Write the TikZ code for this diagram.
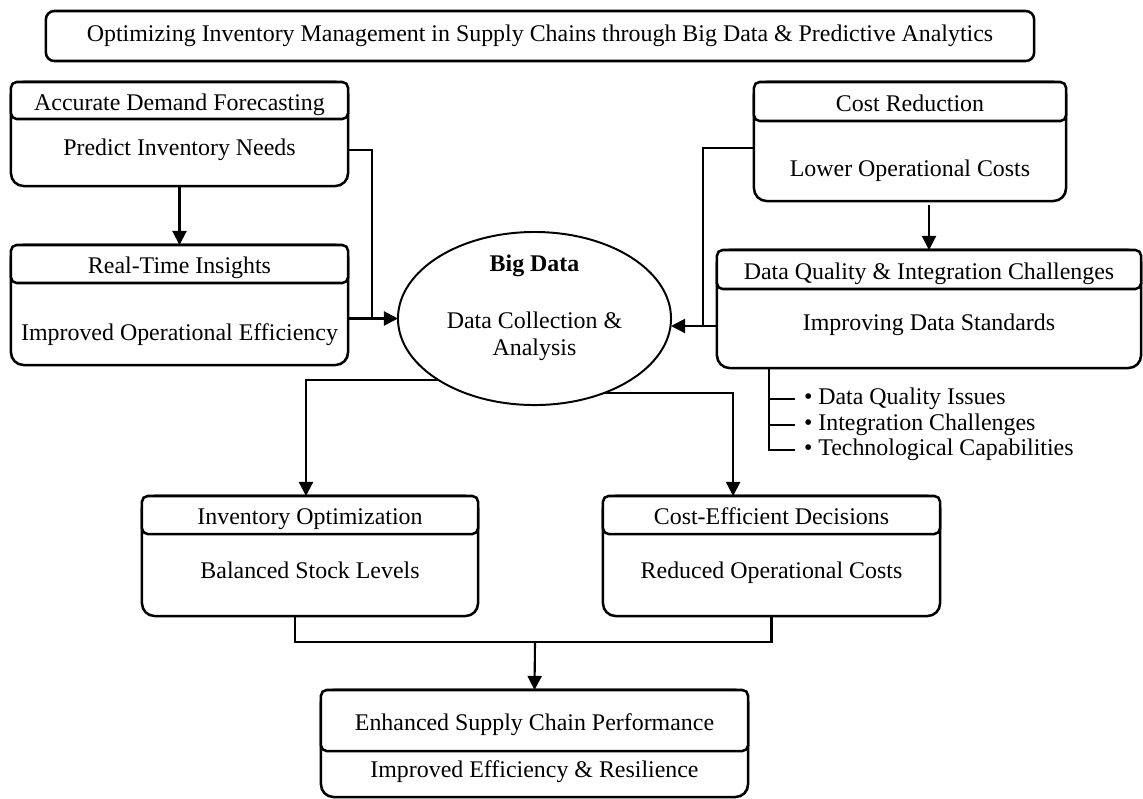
\documentclass[tikz,border=0pt]{standalone}
\usepackage{fontspec}
\setmainfont{Liberation Serif}
\usetikzlibrary{arrows.meta,shapes.geometric}
\begin{document}
\begin{tikzpicture}[x=0.025cm,y=-0.025cm,>={Triangle[length=10pt,width=10pt]},
        font=\fontsize{17pt}{19.5pt}\selectfont,
        every node/.style={inner sep=0pt,outer sep=0pt},
        txt/.style={text height=14pt,text depth=0pt},
        boxhead/.style={draw,line width=1.8pt,rounded corners=4pt,fill=white,txt},
        boxbody/.style={draw,line width=1.8pt,rounded corners=9pt},
        ln/.style={line width=1.5pt}]
        \useasboundingbox (0,0) rectangle (1143,798);
        \node[draw,line width=1.8pt,rounded corners=6pt,minimum width=24.7cm,minimum height=1.25cm] (title) at (540,36)
        {Optimizing Inventory Management in Supply Chains through Big Data \& Predictive Analytics};
        % left column
        \node[boxbody,minimum width=8.425cm,minimum height=2.6cm] (acc) at (179.5,134) {};
        \node[boxhead,minimum width=8.425cm,minimum height=0.925cm] (acc-h) at (179.5,100.5) {Accurate Demand Forecasting};
        \node[txt] (acc-t) at (179.5,146) {Predict Inventory Needs};
        \node[boxbody,minimum width=8.425cm,minimum height=3cm] (rt) at (179.5,305) {};
        \node[boxhead,minimum width=8.425cm,minimum height=0.95cm] (rt-h) at (179.5,264) {Real-Time Insights};
        \node[txt] (rt-t) at (179.5,331) {Improved Operational Efficiency};
        % right column
        \node[boxbody,minimum width=7.8cm,minimum height=2.975cm] (cr) at (910,141.5) {};
        \node[boxhead,minimum width=7.8cm,minimum height=0.975cm] (cr-h) at (910,101.5) {Cost Reduction};
        \node[txt] (cr-t) at (910,167) {Lower Operational Costs};
        \node[boxbody,minimum width=10.6cm,minimum height=2.95cm] (dq) at (929,309) {};
        \node[boxhead,minimum width=10.6cm,minimum height=0.975cm] (dq-h) at (929,269.5) {Data Quality \& Integration Challenges};
        \node[txt] (dq-t) at (929,321) {Improving Data Standards};
        % centre
        \node[draw,ellipse,line width=1.4pt,minimum width=6.825cm,minimum height=4.325cm] (bigdata) at (534.5,318.5) {};
        \node[align=center] (bigtxt) at (534.5,308) {\textbf{Big Data}\\[21pt] Data Collection \&\\ Analysis};
        % bottom
        \node[boxbody,minimum width=8.4cm,minimum height=3cm] (io) at (310,556) {};
        \node[boxhead,minimum width=8.4cm,minimum height=0.95cm] (io-h) at (310,515) {Inventory Optimization};
        \node[txt] (io-t) at (310,569) {Balanced Stock Levels};
        \node[boxbody,minimum width=8.425cm,minimum height=3cm] (ce) at (771.5,556) {};
        \node[boxhead,minimum width=8.425cm,minimum height=0.95cm] (ce-h) at (771.5,515) {Cost-Efficient Decisions};
        \node[txt] (ce-t) at (771.5,569) {Reduced Operational Costs};
        \node[boxbody,minimum width=10.675cm,minimum height=2.675cm] (es) at (534.5,743.5) {};
        \node[boxhead,minimum width=10.675cm,minimum height=1.525cm] (es-h) at (534.5,720.5) {Enhanced Supply Chain Performance};
        \node[txt] (es-t) at (534.5,768) {Improved Efficiency \& Resilience};
        % bullets
        \node[anchor=west] (b1) at (804,399) {\textbullet\ Data Quality Issues};
        \node[anchor=west] (b2) at (804,425) {\textbullet\ Integration Challenges};
        \node[anchor=west] (b3) at (804,450) {\textbullet\ Technological Capabilities};
        \coordinate (bx) at ([xshift=13mm]dq.south west);
        \draw[ln] (bx) |- ([xshift=-2.25mm]b3.west);
        \foreach \b in {b1,b2}
        \draw[ln] (bx |- \b.west) -- ([xshift=-2.25mm]\b.west);
        % connectors
        \coordinate (jl) at (372,318.5);
        \coordinate (jr) at (703,326);
        \coordinate (jb) at (535,642);
        \draw[ln,->] (acc) -- (rt-h);
        \draw[ln] ([yshift=-4mm]acc.east) -| (jl);
        \draw[ln,->] (rt.east |- bigdata.west) -- (bigdata.west);
        \draw[ln,->,shorten <=1mm] (dq-h.north |- cr.south) -- (dq-h.north);
        \draw[ln] ([yshift=-1.625mm]cr.west) -| (jr);
        \draw[ln,->] (dq.west |- jr) -- (bigdata.east |- jr);
        \draw[ln,->] (bigdata.213.5) -| ([xshift=-1mm]io-h.north);
        \draw[ln,->] (bigdata.313) -| ([xshift=-9.6mm]ce-h.north);
        \draw[ln] ([xshift=-3.75mm]io.south) |- (jb) -| (ce.south);
        \draw[ln,->] (jb) -- (es-h.north);
\end{tikzpicture}
\end{document}
